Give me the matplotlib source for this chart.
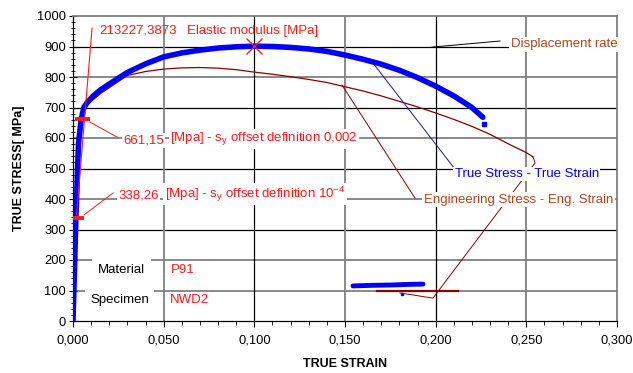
import matplotlib
matplotlib.use("Agg")
import matplotlib.pyplot as plt
from matplotlib.ticker import MultipleLocator, FuncFormatter
import numpy as np

plt.rcParams['font.family'] = ['Liberation Sans', 'DejaVu Sans']

# True stress - true strain
true_strain = [0, 0.0016, 0.0030, 0.0045, 0.006, 0.008, 0.011, 0.015, 0.020, 0.030, 0.040,
               0.050, 0.060, 0.070, 0.080, 0.090, 0.100, 0.110, 0.120, 0.130, 0.140, 0.150,
               0.160, 0.170, 0.180, 0.190, 0.200, 0.210, 0.220, 0.226]
true_stress = [0, 338, 580, 661, 700, 718, 737, 757, 777, 815, 843,
               866, 879, 888, 895, 899, 901, 900, 897, 892, 884, 872,
               858, 842, 822, 798, 770, 738, 700, 668]
true_end_pt = (0.2267, 646)

# Engineering stress - engineering strain
eng_strain = [0, 0.0016, 0.0030, 0.0045, 0.006, 0.008, 0.011, 0.015, 0.020, 0.030, 0.040,
              0.050, 0.060, 0.070, 0.080, 0.090, 0.100, 0.110, 0.120, 0.130, 0.140, 0.150,
              0.160, 0.170, 0.180, 0.190, 0.200, 0.210, 0.220, 0.230, 0.240, 0.250, 0.2537]
eng_stress = [0, 338, 580, 658, 692, 708, 725, 745, 765, 805, 818,
              826, 830, 831, 829, 824, 816, 809, 801, 792, 782, 768,
              754, 738, 720, 702, 682, 661, 638, 612, 581, 552, 538]

# Displacement-rate style segments
disp_true_x = [0.1544, 0.1650, 0.1750, 0.1850, 0.1930]
disp_true_y = [115, 117, 118, 120, 121]
disp_true_dot = (0.1814, 88)
disp_eng_x = [0.1676, 0.2123]
disp_eng_y = [99, 99]

# Elastic modulus line & yield points
E_modulus = "213227,3873"
mod_line_x = [0.0020, 0.0105]
mod_line_y = [350, 960]
yield_002 = (0.0052, 661.15)
yield_1e4 = (0.0019, 338.26)
max_pt = (0.100, 902)

x_ticks = [0.0, 0.05, 0.10, 0.15, 0.20, 0.25, 0.30]
y_ticks = list(range(0, 1001, 100))

fig = plt.figure(figsize=(6.33, 3.73), dpi=100)
ax = fig.add_axes([73/633, 1-321/373, 544/633, 305/373])
ax.set_xlim(0, 0.3)
ax.set_ylim(0, 1000)

# grid
black_h = [300, 500, 700, 900]
for v in y_ticks[1:-1]:
    if v in black_h:
        ax.axhline(v, color='black', lw=0.9, zorder=1)
    else:
        ax.axhline(v, color='#808080', lw=1.3, zorder=1)
for v in x_ticks[1:-1]:
    if abs(v - 0.1) < 1e-9 or abs(v - 0.2) < 1e-9:
        ax.axvline(v, color='black', lw=0.9, zorder=1)
    else:
        ax.axvline(v, color='#808080', lw=1.3, zorder=1)

for s in ['top', 'right']:
    ax.spines[s].set_color('#808080')
    ax.spines[s].set_linewidth(1.3)
for s in ['left', 'bottom']:
    ax.spines[s].set_color('black')
    ax.spines[s].set_linewidth(0.9)

ax.set_xticks(x_ticks)
ax.set_yticks(y_ticks)
ax.xaxis.set_minor_locator(MultipleLocator(0.01))
ax.yaxis.set_minor_locator(MultipleLocator(20))
ax.xaxis.set_major_formatter(FuncFormatter(lambda v, p: f"{v:.3f}".replace('.', ',')))
ax.yaxis.set_major_formatter(FuncFormatter(lambda v, p: f"{int(v)}"))
ax.tick_params(axis='x', which='major', direction='out', length=4, labelsize=9.3, pad=6)
ax.tick_params(axis='x', which='minor', direction='out', length=3)
ax.tick_params(axis='y', which='major', direction='inout', length=6, labelsize=9.3, pad=2)
ax.tick_params(axis='y', which='minor', direction='inout', length=3)

ax.set_xlabel("TRUE STRAIN", fontsize=9, fontweight='bold', labelpad=8)
ax.set_ylabel("TRUE STRESS[ MPa]", fontsize=9, fontweight='bold', labelpad=9)

red = '#ff1a1a'
blue = '#0000ff'
maroon = '#8b0000'
brown = '#b0461e'
fs = 9.5

# curves
ax.plot(eng_strain, eng_stress, color=maroon, lw=0.9, zorder=4)
ax.plot(true_strain, true_stress, color=blue, lw=4.0, zorder=5, solid_capstyle='round')
ax.plot(*true_end_pt, 's', color=blue, ms=2.5, zorder=5)
ax.plot(disp_true_x, disp_true_y, color=blue, lw=3.5, zorder=5, solid_capstyle='round')
ax.plot(*disp_true_dot, 's', color=blue, ms=2, zorder=5)
ax.plot(disp_eng_x, disp_eng_y, color=maroon, lw=1.6, zorder=4)

# elastic modulus line
ax.plot(mod_line_x, mod_line_y, color=red, lw=0.8, zorder=6)
# yield markers
for (xv, yv) in [yield_002, yield_1e4]:
    ax.plot([xv - 0.0042, xv + 0.0042], [yv, yv], color=red, lw=2.8, zorder=7, solid_capstyle='butt')
ax.plot(*max_pt, 'x', color=red, ms=11, mew=1.0, zorder=7)

bbox = dict(facecolor='white', edgecolor='none', pad=1.0)

# annotations
ax.text(0.0143, 951, E_modulus, color=red, fontsize=fs, va='center', ha='left', zorder=8)
ax.text(0.0629, 951, "Elastic modulus [MPa]", color=red, fontsize=fs, va='center', ha='left', zorder=8)

ax.plot([0.0094, 0.0243], [652, 603], color=red, lw=0.7, zorder=6)
ax.text(0.0276, 593, "661,15", color=red, fontsize=fs, va='center', ha='left', bbox=bbox, zorder=8)
ax.text(0.0535, 597, "[Mpa] - $\\mathregular{s_y}$ offset definition 0,002", color=red, fontsize=fs,
        va='center', ha='left', bbox=bbox, zorder=8)

ax.plot([0.0061, 0.0221], [348, 420], color=red, lw=0.7, zorder=6)
ax.text(0.0248, 413, "338,26", color=red, fontsize=fs, va='center', ha='left', bbox=bbox, zorder=8)
ax.text(0.0507, 415, "[Mpa] - $\\mathregular{s_y}$ offset definition 10$^{\\mathregular{-4}}$", color=red,
        fontsize=fs, va='center', ha='left', bbox=bbox, zorder=8)

bbox2 = dict(facecolor='white', edgecolor='none', pad=4.0)
ax.text(0.0138, 167, "Material", color='black', fontsize=fs, va='center', ha='left', bbox=bbox2, zorder=8)
ax.text(0.054, 167, "P91", color=red, fontsize=fs, va='center', ha='left', bbox=bbox, zorder=8)
ax.text(0.0094, 69, "Specimen", color='black', fontsize=fs, va='center', ha='left', bbox=bbox2, zorder=8)
ax.text(0.0535, 69, "NWD2", color=red, fontsize=fs, va='center', ha='left', bbox=bbox, zorder=8)

# Displacement rate
ax.plot([0.2355, 0.198], [918, 898], color='black', lw=0.7, zorder=6)
ax.text(0.2415, 908, "Displacement rate", color=brown, fontsize=fs, va='center', ha='left', bbox=bbox, zorder=8)

# True stress label
ax.plot([0.2118, 0.1654], [489, 846], color='#1a1aa0', lw=0.7, zorder=6)
ax.text(0.2105, 482, "True Stress - True Strain", color=blue, fontsize=fs, va='center', ha='left', bbox=bbox, zorder=8)

# Engineering label
ax.plot([0.1886, 0.1483], [403, 774], color=maroon, lw=0.7, zorder=6)
ax.plot([0.2537, 0.2548, 0.1985, 0.1803], [538, 518, 75, 92], color=maroon, lw=0.7, zorder=6)
ax.text(0.1935, 397, "Engineering Stress - Eng. Strain", color=brown, fontsize=fs, va='center', ha='left',
        bbox=bbox, zorder=8)

fig.savefig("out.png", dpi=100)
